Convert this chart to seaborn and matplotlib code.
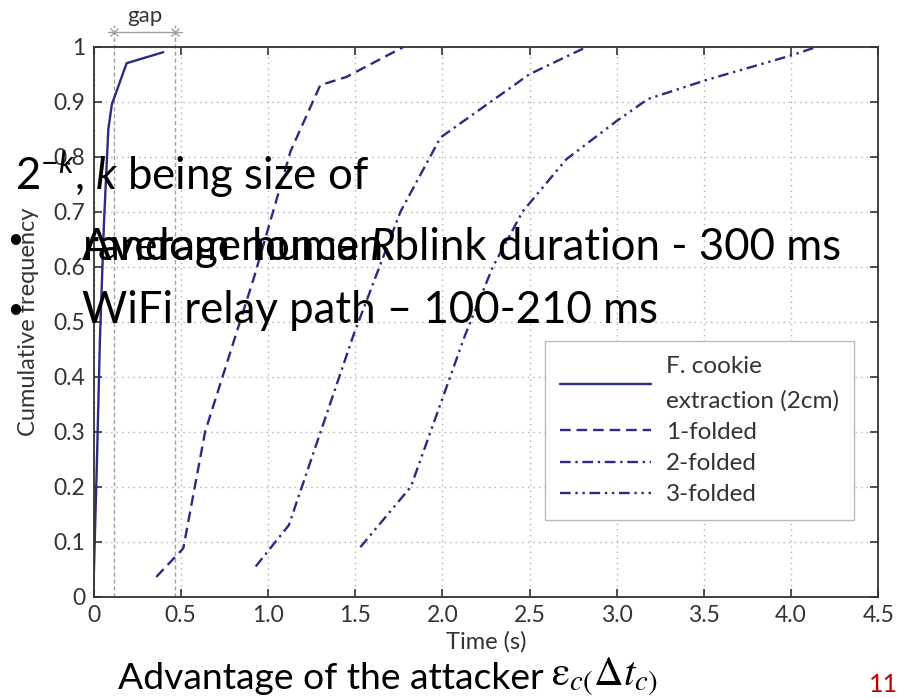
import matplotlib
matplotlib.use("Agg")
import matplotlib.pyplot as plt
import pandas as pd
import seaborn as sns

# Cumulative frequency curves (time in seconds)
cookie_t = [0.0, 0.02, 0.037, 0.06, 0.085, 0.105, 0.19, 0.40]
cookie_f = [0.02, 0.25, 0.47, 0.68, 0.85, 0.895, 0.97, 0.99]
folded1_t = [0.36, 0.515, 0.64, 0.92, 1.13, 1.30, 1.45, 1.78]
folded1_f = [0.036, 0.088, 0.30, 0.58, 0.81, 0.93, 0.945, 1.0]
folded2_t = [0.93, 1.12, 1.49, 1.76, 1.99, 2.50, 2.83]
folded2_f = [0.055, 0.13, 0.475, 0.70, 0.835, 0.95, 1.0]
folded3_t = [1.53, 1.82, 2.13, 2.29, 2.46, 2.71, 3.0, 3.18, 3.52, 4.01, 4.15]
folded3_f = [0.09, 0.20, 0.475, 0.60, 0.70, 0.795, 0.865, 0.905, 0.94, 0.985, 1.0]

series_labels = ["F. cookie\nextraction (2cm)", "1-folded", "2-folded", "3-folded"]
gap_bounds = [0.12, 0.47]

x_ticks = [0, 0.5, 1.0, 1.5, 2.0, 2.5, 3.0, 3.5, 4.0, 4.5]
x_tick_labels = ["0", "0.5", "1.0", "1.5", "2.0", "2.5", "3.0", "3.5", "4.0", "4.5"]
y_ticks = [0, 0.1, 0.2, 0.3, 0.4, 0.5, 0.6, 0.7, 0.8, 0.9, 1.0]
y_tick_labels = ["0", "0.1", "0.2", "0.3", "0.4", "0.5", "0.6", "0.7", "0.8", "0.9", "1"]

bullet_lines = ["Average human blink duration - 300 ms", "WiFi relay path \u2013 100-210 ms"]
nonce_lines = ["2$^{-k}$, $k$ being size of", "random nonce $R$"]
caption_text = "Advantage of the attacker"
caption_math = r"$\mathrm{\varepsilon}_{c(}\Delta t_{c)}$"
page_number = "11"

sns.set_theme(style="ticks")
plt.rcParams["font.family"] = ["Lato", "DejaVu Sans"]
plt.rcParams["mathtext.fontset"] = "custom"
plt.rcParams["mathtext.rm"] = "Lato"
plt.rcParams["mathtext.it"] = "Lato:italic"

W, H = 901, 698
fig = plt.figure(figsize=(W / 100, H / 100), dpi=100)
fig.patch.set_facecolor("white")
ax = fig.add_axes([93.5 / W, 1 - 596.7 / H, 784.8 / W, 550 / H])
ax.set_facecolor("white")

line_color = "#2b2a85"
names = ["cookie", "f1", "f2", "f3"]
frames = []
for name, t, f in zip(names, [cookie_t, folded1_t, folded2_t, folded3_t],
                      [cookie_f, folded1_f, folded2_f, folded3_f]):
    frames.append(pd.DataFrame({"t": t, "f": f, "series": name}))
df = pd.concat(frames, ignore_index=True)

dash_map = {"cookie": "", "f1": (4.5, 2.5), "f2": (4.5, 2.0, 1.0, 2.0),
            "f3": (4.5, 2.0, 1.0, 2.0, 1.0, 2.0)}
sns.lineplot(data=df, x="t", y="f", style="series", style_order=names,
             dashes=dash_map, color=line_color, lw=1.7, sort=False,
             estimator=None, legend=False, ax=ax)
handles = list(ax.lines[:4])

ax.set_xlim(0, 4.5)
ax.set_ylim(0, 1)
ax.set_xticks(x_ticks)
ax.set_xticklabels(x_tick_labels)
ax.set_yticks(y_ticks)
ax.set_yticklabels(y_tick_labels)
ax.grid(True, linestyle=(0, (1, 3)), color="#b0b0b0", lw=1.0)
ax.tick_params(direction="in", top=True, right=True, length=6, width=1.2,
               color="#333333", labelsize=16.5, labelcolor="#333333", pad=6)
for s in ax.spines.values():
    s.set_color("#333333")
    s.set_linewidth(1.3)

ax.set_xlabel("Time (s)", fontsize=17, color="#333333")
ax.set_ylabel("Cumulative frequency", fontsize=17, color="#333333")
ax.xaxis.set_label_coords(0.5, -0.062)
ax.yaxis.set_label_coords(-0.07, 0.5)

# gap markers above the cookie curve
for g in gap_bounds:
    ax.plot([g, g], [0, 1.04], color="#a0a0a0", lw=1.0, ls=(0, (3, 2)),
            clip_on=False, zorder=1)
ax.plot([0.083, 0.507], [1.027, 1.027], color="#a0a0a0", lw=1.0, clip_on=False)
ax.plot(gap_bounds, [1.027, 1.027], ls="none", marker="x", ms=6, mew=1.0,
        color="#a0a0a0", clip_on=False)
ax.text(0.295, 1.055, "gap", ha="center", va="center", fontsize=16,
        color="#333333", transform=ax.transData)

leg = ax.legend(handles, series_labels, loc="upper left",
                bbox_to_anchor=(0.575, 0.465), fontsize=17.5, frameon=True,
                fancybox=False, framealpha=1, edgecolor="#bbbbbb",
                handlelength=3.75, handletextpad=0.62, labelspacing=0.42,
                borderpad=0.62, borderaxespad=0)
leg.get_frame().set_linewidth(1.0)
for txt in leg.get_texts():
    txt.set_color("#333333")
    txt.set_linespacing(1.75)

def px(x, y):
    return x / W, 1 - y / H

fs_slide = 31.5
fig.text(*px(15, 190), nonce_lines[0], fontsize=fs_slide, va="baseline", color="black")
fig.text(*px(82, 260), nonce_lines[1], fontsize=fs_slide, va="baseline", color="black")
fig.text(*px(82, 260), bullet_lines[0], fontsize=fs_slide, va="baseline", color="black")
fig.text(*px(82, 323), bullet_lines[1], fontsize=fs_slide, va="baseline", color="black")
for by in [240, 310]:
    fig.text(*px(15, by), "\u2022", fontsize=20, ha="center", va="center", color="black")

fig.text(*px(118, 689), caption_text, fontsize=26.8, va="baseline", color="black")
fig.text(*px(551, 685), caption_math, fontsize=29.5, va="baseline", color="black",
         math_fontfamily="stix")
fig.text(*px(898, 692), page_number, fontsize=18, ha="right", va="baseline",
         color="#c00000")

fig.savefig("out.png", dpi=100, facecolor="white")
